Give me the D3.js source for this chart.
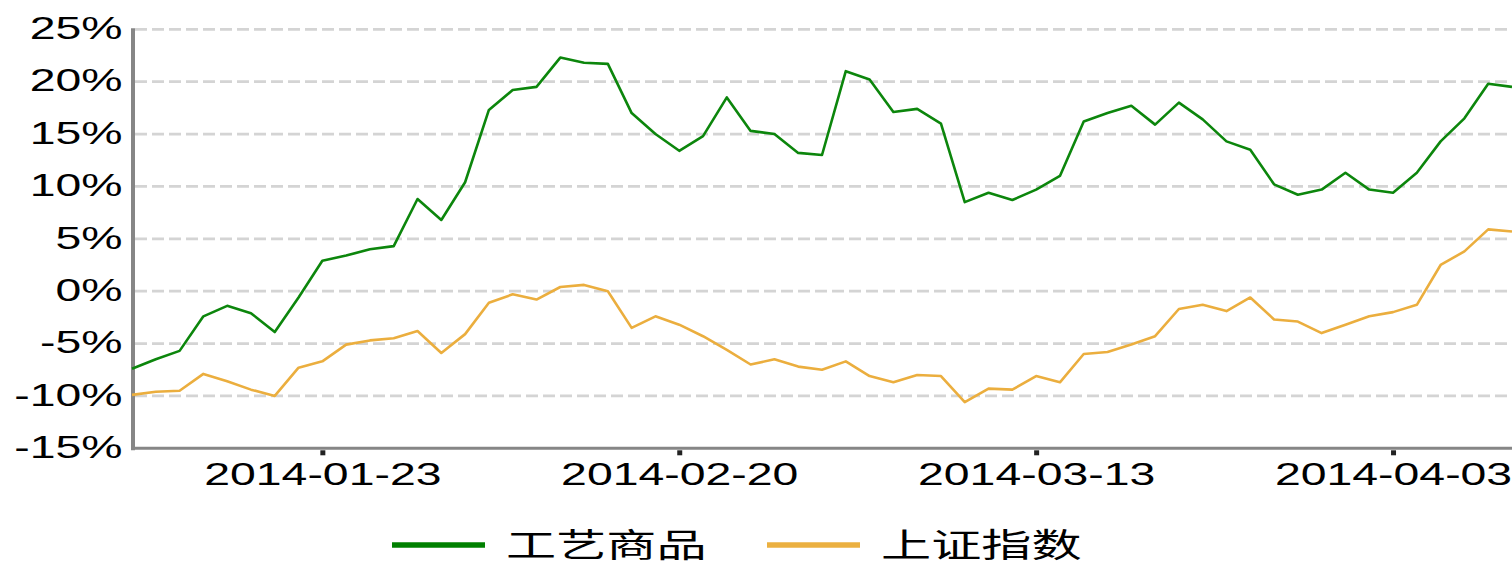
<!DOCTYPE html>
<html>
<head>
<meta charset="utf-8">
<script src="https://cdn.jsdelivr.net/npm/d3@7"></script>
<style>
  html, body { margin: 0; padding: 0; background: #fff; overflow: hidden; }
  svg { display: block; }
  text { font-family: "Liberation Sans", Arial, sans-serif; fill: #000; }
  .legend text { font-family: "Noto Sans CJK SC", sans-serif; }
</style>
</head>
<body>
<div id="chart"></div>
<script>
const dates = [
  "2014-01-13", "2014-01-14", "2014-01-15", "2014-01-16", "2014-01-17", "2014-01-20", "2014-01-21", "2014-01-22",
  "2014-01-23", "2014-01-24", "2014-01-27", "2014-01-28", "2014-01-29", "2014-01-30", "2014-02-07", "2014-02-10",
  "2014-02-11", "2014-02-12", "2014-02-13", "2014-02-14", "2014-02-17", "2014-02-18", "2014-02-19", "2014-02-20",
  "2014-02-21", "2014-02-24", "2014-02-25", "2014-02-26", "2014-02-27", "2014-02-28", "2014-03-03", "2014-03-04",
  "2014-03-05", "2014-03-06", "2014-03-07", "2014-03-10", "2014-03-11", "2014-03-12", "2014-03-13", "2014-03-14",
  "2014-03-17", "2014-03-18", "2014-03-19", "2014-03-20", "2014-03-21", "2014-03-24", "2014-03-25", "2014-03-26",
  "2014-03-27", "2014-03-28", "2014-03-31", "2014-04-01", "2014-04-02", "2014-04-03", "2014-04-04", "2014-04-08",
  "2014-04-09", "2014-04-10", "2014-04-11"
];

// 工艺商品 (%)
const craftValues = [
  -7.4, -6.5, -5.7, -2.4, -1.4, -2.1, -3.9, -0.6, 2.9, 3.4, 4.0, 4.3, 8.8, 6.8, 10.4, 17.3,
  19.2, 19.5, 22.3, 21.8, 21.7, 17.0, 15.0, 13.4, 14.8, 18.5, 15.3, 15.0, 13.2, 13.0, 21.0, 20.2,
  17.1, 17.4, 16.0, 8.5, 9.4, 8.7, 9.7, 11.0, 16.2, 17.0, 17.7, 15.9, 18.0, 16.4, 14.3, 13.5,
  10.2, 9.2, 9.7, 11.3, 9.7, 9.4, 11.3, 14.3, 16.5, 19.8, 19.5
];

// 上证指数 (%)
const shValues = [
  -9.9, -9.6, -9.5, -7.9, -8.6, -9.4, -10.0, -7.3, -6.7, -5.1, -4.7, -4.5, -3.8, -5.9, -4.1, -1.1,
  -0.3, -0.8, 0.4, 0.6, 0.0, -3.5, -2.4, -3.2, -4.3, -5.6, -7.0, -6.5, -7.2, -7.5, -6.7, -8.1,
  -8.7, -8.0, -8.1, -10.6, -9.3, -9.4, -8.1, -8.7, -6.0, -5.8, -5.1, -4.3, -1.7, -1.3, -1.9, -0.6,
  -2.7, -2.9, -4.0, -3.2, -2.4, -2.0, -1.3, 2.5, 3.8, 5.9, 5.7
];

const seriesNames = ["工艺商品", "上证指数"];
const seriesColors = ["#0c860c", "#ebae3e"];
const legendColors = ["#008000", "#ebb040"];

const yTicks = [-15, -10, -5, 0, 5, 10, 15, 20, 25];
const xTicks = ["2014-01-23", "2014-02-20", "2014-03-13", "2014-04-03"];

const W = 1512, H = 564;
const plotLeft = 132, plotRight = 1512, plotTop = 29.3, plotBottom = 448.3;
const stretch = 1.45;  // the reference text is wide

const svg = d3.select("#chart").append("svg")
    .attr("width", W)
    .attr("height", H);

const x = d3.scalePoint().domain(dates).range([plotLeft, plotRight]);
const y = d3.scaleLinear().domain([-15, 25]).range([plotBottom, plotTop]);

// grid
svg.append("g")
    .selectAll("line")
    .data(yTicks.filter(d => d > -15))
    .enter().append("line")
    .attr("x1", plotLeft + 3)
    .attr("x2", W)
    .attr("y1", d => y(d))
    .attr("y2", d => y(d))
    .attr("stroke", "#d4d4d4")
    .attr("stroke-width", 2.7)
    .attr("stroke-dasharray", "12,5");

// y axis labels
const yAxis = svg.append("g")
    .attr("transform", `translate(${plotLeft},0)`)
    .call(d3.axisLeft(y).tickValues(yTicks).tickFormat(d => d + "%").tickSize(0));
yAxis.select(".domain").remove();
yAxis.selectAll("text")
    .attr("font-size", 32)
    .attr("font-family", null)
    .attr("x", -9.5 / stretch)
    .attr("dy", null)
    .attr("y", 9.3)
    .attr("transform", `scale(${stretch},1)`)
    .style("fill", "#000");

// x axis
const xAxis = svg.append("g")
    .attr("transform", `translate(0,${plotBottom + 2})`)
    .call(d3.axisBottom(x).tickValues(xTicks).tickSize(5).tickSizeOuter(0));
xAxis.select(".domain").remove();
xAxis.selectAll(".tick line")
    .attr("stroke", "#222")
    .attr("stroke-width", 5);
xAxis.selectAll("text")
    .attr("font-size", 32)
    .attr("font-family", null)
    .attr("y", 35)
    .attr("dy", null)
    .attr("transform", `scale(${stretch},1)`)
    .style("fill", "#000");

// axis lines
svg.append("line")
    .attr("x1", plotLeft + 1).attr("x2", plotLeft + 1)
    .attr("y1", plotTop - 1).attr("y2", plotBottom + 2)
    .attr("stroke", "#868686").attr("stroke-width", 4);
svg.append("line")
    .attr("x1", plotLeft - 1).attr("x2", W)
    .attr("y1", plotBottom).attr("y2", plotBottom)
    .attr("stroke", "#868686").attr("stroke-width", 3);

// lines
const line = d3.line()
    .x((d, i) => x(dates[i]))
    .y(d => y(d));

[shValues, craftValues].forEach((vals, k) => {
    svg.append("path")
        .datum(vals)
        .attr("fill", "none")
        .attr("stroke", seriesColors[1 - k])
        .attr("stroke-width", 2.6)
        .attr("stroke-linejoin", "round")
        .attr("d", line);
});

// legend
const legendX = [392, 767];
const legend = svg.append("g").attr("class", "legend");
seriesNames.forEach((name, i) => {
    const g = legend.append("g").attr("transform", `translate(${legendX[i]},545)`);
    g.append("line")
        .attr("x1", 0).attr("x2", 93)
        .attr("y1", 0).attr("y2", 0)
        .attr("stroke", legendColors[i])
        .attr("stroke-width", 5.5);
    g.append("text")
        .attr("x", 114 / 1.52)
        .attr("y", 12)
        .attr("font-size", 33)
        .attr("transform", "scale(1.52,1)")
        .text(name);
});
</script>
</body>
</html>
